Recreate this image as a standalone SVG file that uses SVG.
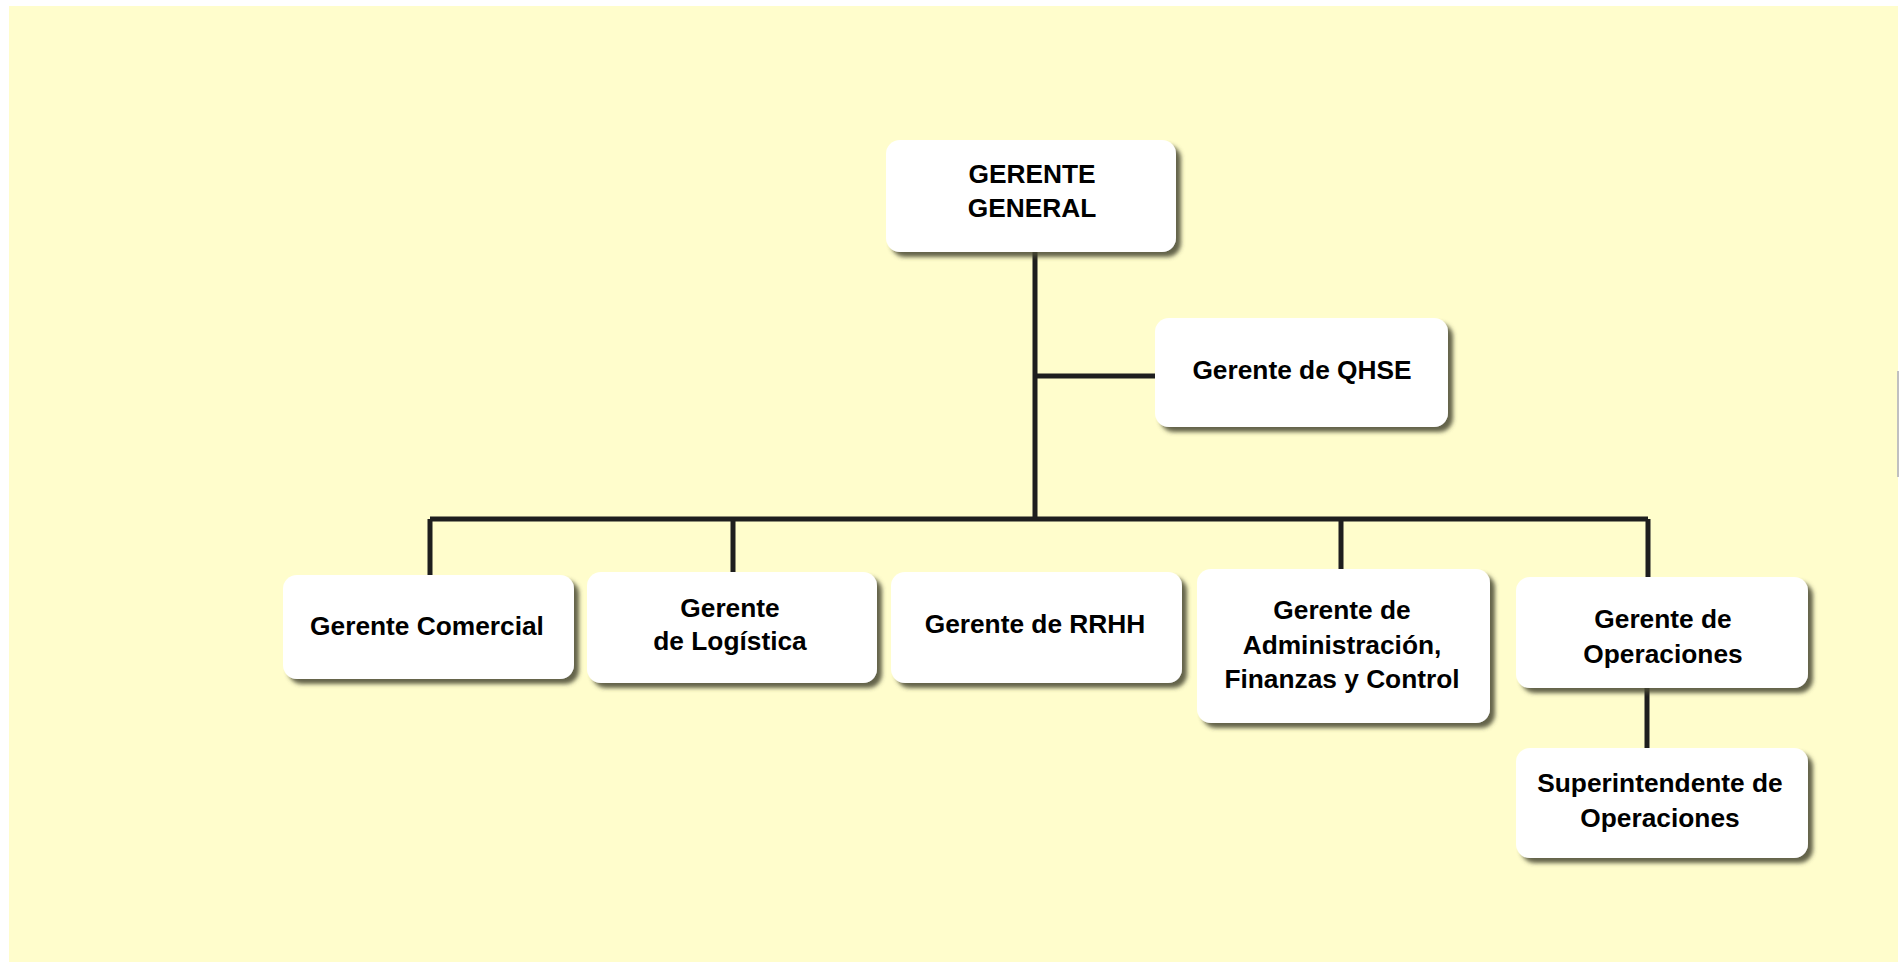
<svg xmlns="http://www.w3.org/2000/svg" width="1900" height="963" viewBox="0 0 1900 963">
<defs>
<filter id="sh" x="-10%" y="-20%" width="130%" height="150%">
<feDropShadow dx="5" dy="5" stdDeviation="2.2" flood-color="#4a4a30" flood-opacity="0.85"/>
</filter>
<style>
.box{fill:#ffffff;filter:url(#sh)}
.t{font-family:"Liberation Sans",Arial,sans-serif;font-weight:bold;font-size:26.3px;fill:#000;text-anchor:middle}
.c{stroke:#1e1e1e;stroke-width:5;fill:none}
</style>
</defs>
<rect x="0" y="0" width="1900" height="963" fill="#ffffff"/>
<rect x="9" y="6" width="1889" height="956" fill="#FFFDCC"/>
<rect x="1897" y="371" width="2" height="106" fill="#c0c0c0"/>
<g id="connectors">
<path class="c" d="M1035 252V519M1035 376H1157M430 519H1648M430 519V575M733 519V572M1341 519V569M1648 519V577M1647 688V748"/>
</g>
<g id="gerente-general"><rect class="box" x="886" y="140" width="290" height="112" rx="14"/><text class="t" x="1032" y="183">GERENTE</text><text class="t" x="1032" y="217">GENERAL</text></g>
<g id="qhse"><rect class="box" x="1155" y="318" width="293" height="109" rx="14"/><text class="t" x="1302" y="379">Gerente de QHSE</text></g>
<g id="comercial"><rect class="box" x="283" y="575" width="291" height="104" rx="14"/><text class="t" x="427" y="635">Gerente Comercial</text></g>
<g id="logistica"><rect class="box" x="587" y="572" width="290" height="111" rx="14"/><text class="t" x="730" y="617">Gerente</text><text class="t" x="730" y="650">de Logística</text></g>
<g id="rrhh"><rect class="box" x="891" y="572" width="291" height="111" rx="14"/><text class="t" x="1035" y="633">Gerente de RRHH</text></g>
<g id="administracion"><rect class="box" x="1197" y="569" width="293" height="154" rx="14"/><text class="t" x="1342" y="619">Gerente de</text><text class="t" x="1342" y="654">Administración,</text><text class="t" x="1342" y="688">Finanzas y Control</text></g>
<g id="operaciones"><rect class="box" x="1516" y="577" width="292" height="111" rx="14"/><text class="t" x="1663" y="628">Gerente de</text><text class="t" x="1663" y="663">Operaciones</text></g>
<g id="superintendente"><rect class="box" x="1516" y="748" width="292" height="110" rx="14"/><text class="t" x="1660" y="792">Superintendente de</text><text class="t" x="1660" y="827">Operaciones</text></g>
</svg>
